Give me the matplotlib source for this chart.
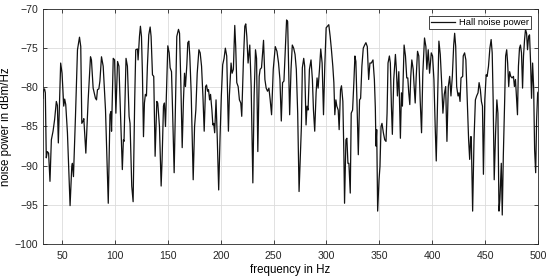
import matplotlib
matplotlib.use("Agg")
import matplotlib.pyplot as plt

freq = [
    32.0, 32.6, 33.5, 34.2, 35.1, 36.1, 37.3, 38.6, 39.9, 41.5, 43.0, 44.6, 45.6, 46.5, 48.7,
    50.0, 51.6, 52.5, 53.5, 55.1, 57.6, 59.2, 59.8, 60.8, 62.7, 64.6, 66.5, 67.7, 68.7, 69.9,
    70.6, 72.5, 74.7, 76.9, 77.8, 79.4, 81.6, 82.6, 83.5, 84.8, 85.8, 87.3, 88.9, 91.1, 93.7,
    95.3, 96.2, 96.8, 98.4, 99.7, 100.9, 102.5, 103.8, 105.4, 107.0,
    108.0, 108.6, 110.5, 111.8, 113.4, 114.3, 115.9, 117.2, 118.7, 119.7, 121.3, 121.9, 123.2,
    124.1, 125.1, 126.0, 127.0, 127.9, 128.8, 129.8, 130.7, 132.0, 133.3, 134.2, 135.5, 136.7,
    138.0, 139.6, 140.5, 142.1, 143.7, 144.6, 145.9, 146.8, 147.8, 149.1, 150.0, 151.3, 152.2,
    153.5, 154.4, 156.0, 157.3, 158.5, 160.1, 161.1, 162.3, 163.6, 164.8, 165.8, 166.7, 168.0,
    168.9, 169.9, 170.8, 172.1, 174.0, 175.3, 176.5, 177.8, 179.4, 180.6, 181.9, 183.2, 184.4,
    185.7, 186.6, 187.6, 188.5, 189.5, 190.4, 191.7, 192.6,
    193.4, 194.3, 195.6, 196.8, 198.1, 199.4, 200.6, 201.9, 203.2, 204.4, 205.7, 207.3, 208.2,
    209.8, 210.8, 212.0, 213.3, 214.2, 215.2, 216.5, 217.7, 219.0, 219.9, 221.5, 222.8, 223.7,
    224.7, 225.9, 227.5, 228.8, 230.4, 231.6, 232.9, 233.9, 235.1, 236.4, 237.3, 238.6, 240.5,
    241.8, 243.0, 244.3, 245.6, 246.8, 248.1, 249.7, 251.6, 253.2, 254.7, 256.0, 257.3, 258.5,
    259.8, 261.4, 262.3, 263.3, 264.2, 265.2, 266.5, 267.7, 269.0, 270.3, 271.5, 272.8, 274.1,
    275.3, 276.3, 277.2, 278.5, 279.4, 280.7, 281.6, 282.6, 283.9,
    285.4, 286.7, 287.7, 288.9, 290.2, 291.1, 292.1, 293.4, 294.6, 295.9, 297.2, 298.4, 299.7,
    300.9, 302.2, 303.5, 304.7, 306.0, 307.0, 307.9, 308.9, 309.8, 311.1, 312.0, 313.3, 314.2,
    315.5, 316.5, 317.1, 318.4, 319.3, 320.3, 321.2, 322.5, 323.4, 324.7, 325.9, 326.9, 327.8,
    328.8, 330.1, 331.3, 332.3, 333.5, 334.8, 336.1, 337.3, 338.6, 339.9, 341.1, 342.4, 344.0,
    345.3, 346.2, 346.8, 347.5, 348.4, 349.7, 350.6, 351.6, 352.5, 353.8, 355.1, 356.3, 357.3,
    358.2, 359.5, 360.4, 361.4, 362.3, 363.6, 365.2, 366.1, 367.1, 368.4,
    369.9, 370.9, 371.8, 373.4, 374.7, 375.9, 376.9, 377.8, 378.8, 379.7, 380.7, 382.0, 382.9,
    383.9, 384.8, 386.1, 387.3, 388.6, 389.9, 391.1, 392.7, 394.0, 394.9, 396.2, 397.5, 399.1,
    400.3, 401.6, 402.8, 403.8, 405.1, 406.3, 407.6, 408.9, 410.1, 411.4, 412.7, 413.9, 415.2,
    416.5, 417.7, 419.0, 420.3, 421.2, 422.2, 423.1, 424.4, 425.3, 426.3, 427.2, 428.8,
    429.3, 430.6, 431.8, 433.1, 434.4, 435.4, 436.3, 436.9, 438.2, 439.5, 440.8, 442.0, 443.3,
    444.3, 445.5, 446.5, 447.5, 448.4, 449.7, 451.0, 451.9, 453.2, 454.5, 455.7, 456.7, 457.6,
    458.6, 459.9, 461.1, 462.1, 463.1, 464.0, 465.3, 466.2, 467.2, 468.5, 469.4, 470.4, 471.3,
    472.3, 473.2, 474.2, 475.5, 476.8, 477.7, 478.7, 479.6, 480.6, 481.5, 482.5, 483.4, 484.4,
    485.4, 486.3, 487.3, 488.2, 489.2, 490.1, 491.1, 492.0, 493.0, 493.9, 494.9, 495.9, 496.8,
    497.8, 498.7, 499.7, 500.6,
]

power = [
    -81.4, -80.3, -80.2, -80.7, -89.0, -88.2, -88.4, -92.0, -86.7, -85.6, -84.1, -81.8, -82.3, -87.1, -76.9,
    -78.2, -82.4, -81.5, -82.2, -85.8, -95.1, -90.1, -89.7, -91.4, -83.7, -75.2, -73.6, -74.8, -84.6, -84.3,
    -84.0, -88.4, -81.6, -76.1, -76.5, -80.1, -81.4, -81.6, -80.3, -80.2, -79.2, -76.1, -77.3, -82.9, -94.8,
    -83.5, -83.1, -85.6, -76.3, -76.5, -83.3, -76.7, -77.3, -84.1, -90.5,
    -86.7, -86.9, -76.3, -77.3, -83.7, -84.6, -92.6, -94.6, -81.6, -75.2, -75.1, -76.5, -73.5,
    -72.2, -73.5, -78.2, -86.3, -82.0, -80.9, -81.1, -77.3, -73.3, -72.3, -73.5, -78.4, -78.6,
    -88.8, -81.8, -82.0, -85.0, -92.6, -89.2, -82.4, -82.0, -85.0, -79.0, -74.7, -75.6, -77.5,
    -78.0, -82.4, -90.9, -81.6, -73.5, -72.6, -73.1, -79.4, -87.7, -81.6, -78.2, -79.9, -77.1,
    -74.3, -74.1, -76.0, -80.7, -91.8, -85.0, -82.9, -78.2, -75.2, -75.6, -77.3, -81.1, -85.6,
    -79.9, -79.7, -80.5, -80.3, -81.6, -80.9, -82.9, -84.8,
    -84.6, -85.8, -81.6, -86.7, -93.1, -86.3, -81.1, -77.1, -76.3, -75.0, -76.0, -85.6, -81.1,
    -76.9, -78.2, -77.7, -72.1, -74.8, -79.4, -79.9, -81.6, -82.0, -83.7, -76.5, -72.2, -71.9,
    -73.5, -76.9, -74.6, -79.9, -92.2, -81.1, -75.2, -76.3, -88.2, -78.6, -77.7, -77.5, -74.0,
    -79.0, -80.1, -80.5, -80.1, -81.6, -83.5, -77.7, -74.8, -75.4, -76.9, -79.0, -84.3, -79.4,
    -79.2, -74.3, -71.4, -71.6, -77.3, -83.5, -77.7, -74.6, -75.0, -75.8, -77.7, -83.3, -93.3,
    -88.8, -85.0, -77.5, -76.3, -77.3, -84.8, -82.4, -82.9, -77.7,
    -76.5, -79.0, -82.9, -85.6, -80.7, -78.8, -80.1, -77.7, -75.1, -76.9, -83.5, -77.3, -72.4,
    -72.2, -72.0, -73.5, -75.2, -77.3, -79.4, -83.5, -81.6, -82.4, -82.9, -85.4, -80.3, -79.8,
    -81.8, -88.8, -94.8, -86.7, -86.5, -89.7, -89.7, -93.5, -83.3, -82.9, -79.4, -76.0, -76.7,
    -81.6, -88.6, -81.6, -81.4, -77.3, -75.0, -74.6, -74.3, -74.8, -79.0, -76.9, -76.9, -76.5,
    -79.0, -82.6, -87.5, -85.4, -95.8, -91.8, -90.1, -85.0, -84.6, -85.8, -86.7, -86.9, -83.3,
    -76.9, -76.0, -76.9, -82.4, -86.0, -79.0, -75.8, -77.7, -81.1, -78.0,
    -86.5, -80.7, -82.4, -74.6, -76.0, -78.8, -78.8, -80.7, -82.2, -78.6, -76.5, -77.7, -79.9,
    -82.0, -78.8, -75.4, -76.0, -81.6, -85.8, -78.2, -73.7, -74.8, -77.7, -75.2, -78.2, -75.6,
    -76.0, -79.0, -85.0, -89.4, -81.6, -74.1, -75.8, -79.4, -83.3, -80.9, -79.9, -86.9, -79.9,
    -78.6, -81.1, -78.6, -74.6, -73.1, -74.8, -79.9, -81.1, -80.7, -81.8, -78.8, -78.6,
    -76.0, -75.6, -76.5, -81.6, -86.7, -89.2, -86.3, -86.3, -95.8, -86.7, -81.6, -81.1, -80.7,
    -79.4, -80.3, -81.8, -82.4, -91.1, -81.6, -78.4, -78.6, -77.3, -75.0, -73.9, -75.6, -81.6,
    -91.8, -85.8, -81.6, -83.3, -95.8, -94.3, -89.7, -96.3, -88.8, -81.6, -76.0, -75.2, -76.9,
    -79.9, -78.0, -78.6, -78.8, -78.6, -79.9, -79.0, -81.1, -83.5, -77.3, -75.0, -74.6, -75.6,
    -80.1, -76.0, -73.9, -72.6, -73.1, -75.2, -73.5, -73.3, -76.9, -81.4, -76.9, -80.1, -88.0,
    -90.9, -84.1, -80.7, -80.5,
]

x_ticks = [50, 100, 150, 200, 250, 300, 350, 400, 450, 500]
y_ticks = [-100, -95, -90, -85, -80, -75, -70]
series_label = "Hall noise power"

plt.rcParams['font.family'] = ['Liberation Sans', 'DejaVu Sans']

fig = plt.figure(figsize=(5.5, 2.79), dpi=100)
ax = fig.add_axes([43/550, 35/279, 495/550, 235/279])

ax.plot(freq, power, color='#111111', linewidth=0.9, label=series_label)

ax.set_xlim(32, 500)
ax.set_ylim(-100, -70)
ax.set_xticks(x_ticks)
ax.set_yticks(y_ticks)
ax.grid(True, color='#dcdcdc', linewidth=0.6)
ax.set_axisbelow(True)
ax.tick_params(direction='in', top=True, right=True, labelsize=7.6,
               length=3, width=0.6, colors='#262626')
ax.tick_params(axis='x', pad=5)
ax.tick_params(axis='y', pad=3.5)
for s in ax.spines.values():
    s.set_linewidth(0.6)
    s.set_color('#262626')

ax.set_xlabel('frequency in Hz', fontsize=8.3, labelpad=2)
ax.set_ylabel('noise power in dBm/Hz', fontsize=8.3)
ax.yaxis.set_label_coords(-0.062, 0.5)

leg = ax.legend(loc='upper right', fontsize=6.8, handlelength=2.5, handletextpad=0.45,
                borderpad=0.25, fancybox=False, framealpha=1, edgecolor='#262626',
                borderaxespad=0.7)
leg.get_frame().set_linewidth(0.6)

fig.savefig('out.png', dpi=100)
